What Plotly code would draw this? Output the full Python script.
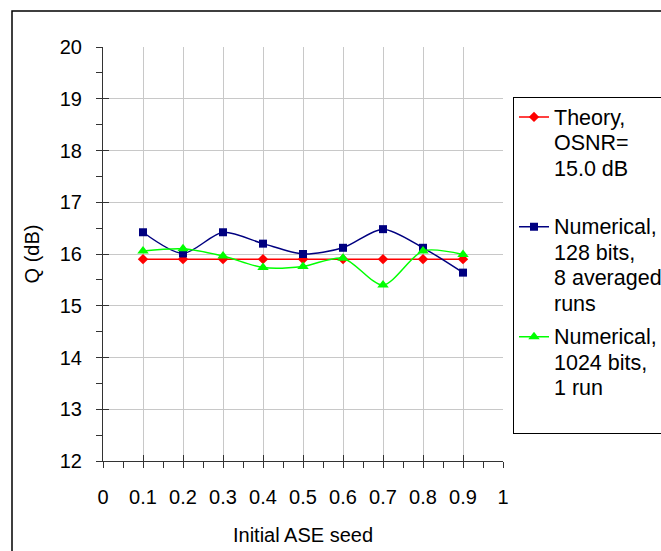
import plotly.graph_objects as go

# Initial ASE seed values
seeds = [0.1, 0.2, 0.3, 0.4, 0.5, 0.6, 0.7, 0.8, 0.9]

# Q factor (dB)
q_theory = [15.9, 15.9, 15.9, 15.9, 15.9, 15.9, 15.9, 15.9, 15.9]
q_128 = [16.42, 16.01, 16.42, 16.20, 16.0, 16.12, 16.48, 16.12, 15.64]
q_1024 = [16.06, 16.10, 15.96, 15.74, 15.76, 15.92, 15.40, 16.06, 15.99]

# legend entries, one list item per text line
name_lines = [
    ["Theory,", "OSNR=", "15.0 dB", "&nbsp;"],
    ["Numerical,", "128 bits,", "8 averaged", "runs"],
    ["Numerical,", "1024 bits,", "1 run", "&nbsp;"],
]

x_ticks = [0, 0.1, 0.2, 0.3, 0.4, 0.5, 0.6, 0.7, 0.8, 0.9, 1]
x_labels = ["0", "0.1", "0.2", "0.3", "0.4", "0.5", "0.6", "0.7", "0.8", "0.9", "1"]
y_ticks = [12, 13, 14, 15, 16, 17, 18, 19, 20]

FONT = "Liberation Sans, Arial, sans-serif"


def legend_name(lines):
    # slightly larger glyphs than the base legend font, keeping the tighter line pitch
    return "<br>".join('<span style="font-size:21.5px">%s</span>' % s for s in lines)


names = [legend_name(l) for l in name_lines]

fig = go.Figure()
fig.add_trace(go.Scatter(
    x=seeds, y=q_theory, name=names[0], mode="lines+markers", legendgroup="a",
    line=dict(color="#ff0000", width=1.5),
    marker=dict(symbol="diamond", size=8, color="#ff0000"),
))
fig.add_trace(go.Scatter(
    x=seeds, y=q_128, name=names[1], mode="lines+markers", legendgroup="b",
    line=dict(color="#000080", width=1.5, shape="spline", smoothing=0.8),
    marker=dict(symbol="square", size=8, color="#000080"),
))
fig.add_trace(go.Scatter(
    x=seeds, y=q_1024, name=names[2], mode="lines+markers", legendgroup="c",
    line=dict(color="#00ff00", width=1.5, shape="spline", smoothing=0.8),
    marker=dict(symbol="triangle-up", size=10, color="#00ff00"),
))
# empty trace so the overlay axes (inner half of the crossing ticks) are drawn
fig.add_trace(go.Scatter(x=[], y=[], xaxis="x2", yaxis="y2",
                         showlegend=False, hoverinfo="skip"))

axis_font = dict(family=FONT, size=20, color="black")

fig.update_layout(
    width=661, height=551,
    margin=dict(l=103, r=158, t=47, b=90, autoexpand=False),
    paper_bgcolor="white", plot_bgcolor="white",
    font=dict(family=FONT, size=20, color="black"),
    showlegend=True,
    legend=dict(
        x=1.025, xanchor="left", y=0.88, yanchor="top",
        bordercolor="black", borderwidth=1, bgcolor="white",
        font=dict(family=FONT, size=19.6, color="black"),
        itemwidth=30, tracegroupgap=5, valign="top",
    ),
    xaxis=dict(
        range=[0, 1], tickvals=x_ticks, ticktext=x_labels,
        showgrid=True, gridcolor="#c8c8c8", gridwidth=1,
        showline=True, linecolor="#333333", linewidth=1,
        ticks="outside", ticklen=6, tickcolor="#333333",
        minor=dict(ticks="outside", ticklen=6, dtick=0.05, tick0=0,
                   tickcolor="#333333", showgrid=False),
        tickfont=axis_font, ticklabelstandoff=12,
        title=dict(text="Initial ASE seed", font=axis_font, standoff=20),
        zeroline=False, fixedrange=True,
    ),
    yaxis=dict(
        range=[12, 20], tickvals=y_ticks,
        showgrid=True, gridcolor="#c8c8c8", gridwidth=1,
        showline=True, linecolor="#333333", linewidth=1,
        ticks="outside", ticklen=6, tickcolor="#333333",
        minor=dict(ticks="outside", ticklen=6, dtick=0.5, tick0=12,
                   tickcolor="#333333", showgrid=False),
        tickfont=axis_font, ticklabelstandoff=10,
        title=dict(text="Q (dB)", font=axis_font, standoff=14),
        zeroline=False, fixedrange=True,
    ),
    xaxis2=dict(
        overlaying="x", matches="x", anchor="y2", side="bottom",
        tickvals=x_ticks, ticks="inside", ticklen=6, tickcolor="#333333",
        showticklabels=False, showgrid=False, showline=False, zeroline=False,
    ),
    yaxis2=dict(
        overlaying="y", matches="y", anchor="x2", side="left",
        tickvals=y_ticks, ticks="inside", ticklen=6, tickcolor="#333333",
        showticklabels=False, showgrid=False, showline=False, zeroline=False,
    ),
)

# outer chart frame
fig.add_shape(type="rect", xref="paper", yref="paper",
              x0=-0.2275, x1=1.6, y0=-0.4, y1=1.087,
              line=dict(color="black", width=1.5), fillcolor="rgba(0,0,0,0)",
              layer="below")

fig.write_html("out.html")
